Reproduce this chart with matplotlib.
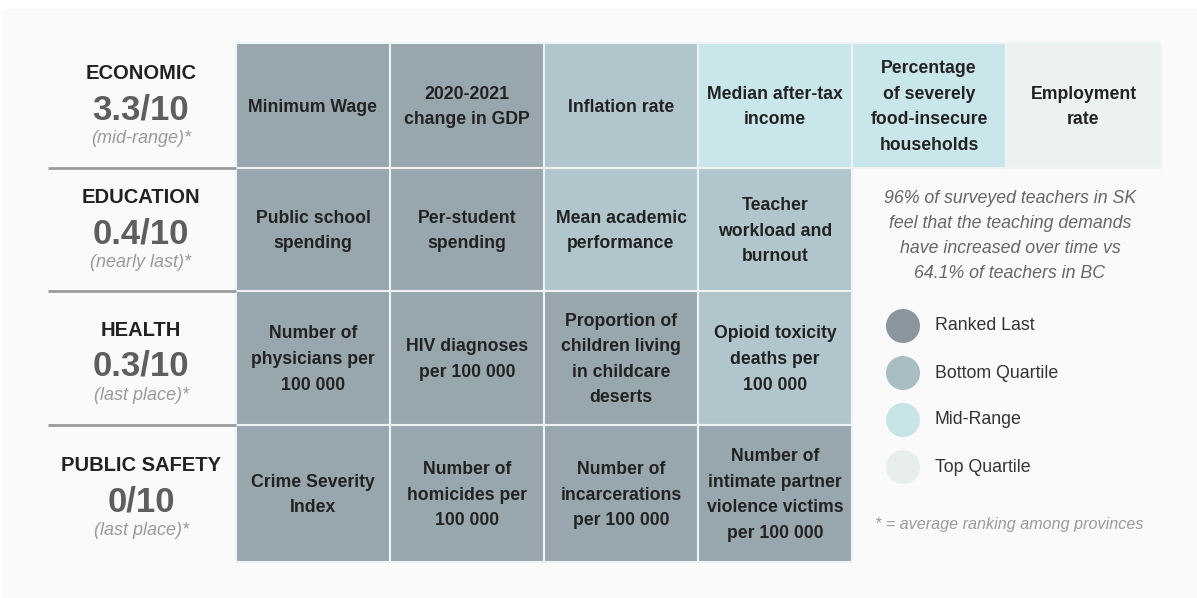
## Saskatchewan report card grid
import matplotlib
matplotlib.use("Agg")
import matplotlib.pyplot as plt
from matplotlib.patches import Rectangle

plt.rcParams['font.family'] = ['Liberation Sans', 'DejaVu Sans']

# categories on the left
categories = ["ECONOMIC", "EDUCATION", "HEALTH", "PUBLIC SAFETY"]
scores = ["3.3/10", "0.4/10", "0.3/10", "0/10"]
notes = ["(mid-range)*", "(nearly last)*", "(last place)*", "(last place)*"]

# indicators, row by row
indicators = [
    ["Minimum Wage", "2020-2021\nchange in GDP", "Inflation rate",
     "Median after-tax\nincome", "Percentage\nof severely\nfood-insecure\nhouseholds",
     "Employment\nrate"],
    ["Public school\nspending", "Per-student\nspending", "Mean academic\nperformance",
     "Teacher\nworkload and\nburnout"],
    ["Number of\nphysicians per\n100 000", "HIV diagnoses\nper 100 000",
     "Proportion of\nchildren living\nin childcare\ndeserts",
     "Opioid toxicity\ndeaths per\n100 000"],
    ["Crime Severity\nIndex", "Number of\nhomicides per\n100 000",
     "Number of\nincarcerations\nper 100 000",
     "Number of\nintimate partner\nviolence victims\nper 100 000"],
]
# 0 = ranked last, 1 = bottom quartile, 2 = mid-range, 3 = top quartile
ranks = [
    [0, 0, 1, 2, 2, 3],
    [0, 0, 1, 1],
    [0, 0, 0, 1],
    [0, 0, 0, 0],
]
rank_names = ["Ranked Last", "Bottom Quartile", "Mid-Range", "Top Quartile"]
cell_colors = ["#98a7ae", "#b1c6cc", "#c9e6ea", "#ecf2f2"]
dot_colors = ["#8b959d", "#a9bdc4", "#c7e5e9", "#e8eeee"]

callout = "96% of surveyed teachers in SK\nfeel that the teaching demands\nhave increased over time vs\n64.1% of teachers in BC"
footnote = "* = average ranking among provinces"

# layout (pixels)
col_x = [236, 390, 544, 698, 852, 1006, 1161]
row_y = [43, 168, 291, 425, 562]

fig = plt.figure(figsize=(11.97, 5.98), dpi=100)
ax = fig.add_axes([0, 0, 1, 1])
ax.set_xlim(0, 1197)
ax.set_ylim(598, 0)
ax.axis('off')

# light panel
ax.add_patch(Rectangle((3, 9), 1194, 589, facecolor="#fafafa", edgecolor="none"))

for i in range(len(categories)):
    y0, y1 = row_y[i], row_y[i + 1]
    for j in range(len(indicators[i])):
        x0, x1 = col_x[j], col_x[j + 1]
        ax.add_patch(Rectangle((x0, y0), x1 - x0, y1 - y0,
                               facecolor=cell_colors[ranks[i][j]],
                               edgecolor="#eef4f5", lw=1.5))
        ax.text((x0 + x1) / 2, (y0 + y1) / 2 + 1.5, indicators[i][j], ha='center', va='center',
                fontsize=12.7, fontweight='bold', color="#222222", linespacing=1.66)

    # left labels
    yc = (y0 + y1) / 2
    off = 4 if i > 1 else 0
    ax.text(141, yc - 32 + off, categories[i], ha='center', va='center',
            fontsize=14.5, fontweight='bold', color="#222222")
    ax.text(141, yc + 4 + off, scores[i], ha='center', va='center',
            fontsize=25, fontweight='bold', color="#5e5e5e")
    ax.text(141, yc + 33 + off, notes[i], ha='center', va='center',
            fontsize=13, style='italic', color="#9a9a9a")
    if i > 0:
        ax.plot([48, 236], [y0, y0], color="#9b9b9b", lw=2, solid_capstyle='butt')

# callout
ax.text(1010, 236, callout, ha='center', va='center', fontsize=12.8,
        style='italic', color="#666666", linespacing=1.62)

# legend
for k in range(len(rank_names)):
    yk = 326 + 47 * k
    ax.scatter([903], [yk], s=600, color=dot_colors[k], edgecolors='none')
    ax.text(935, yk, rank_names[k], ha='left', va='center', fontsize=12.8, color="#333333")

ax.text(875, 525, footnote, ha='left', va='center', fontsize=11.6,
        style='italic', color="#9a9a9a")

fig.savefig("out.png", dpi=100, facecolor="white")
